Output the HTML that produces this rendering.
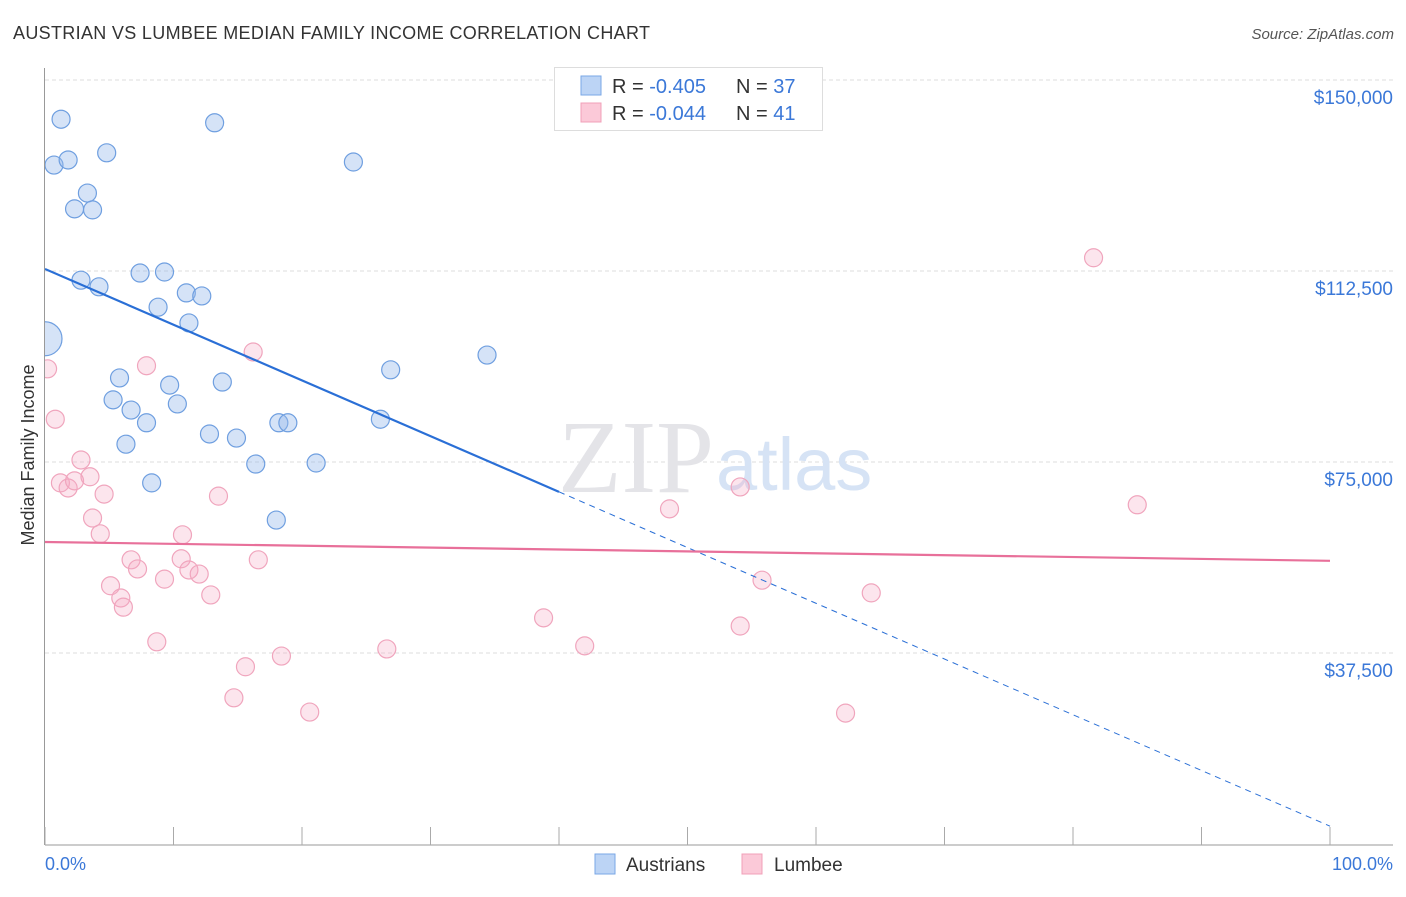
<!DOCTYPE html>
<html><head><meta charset="utf-8"><style>
body{margin:0;background:#fff;font-family:"Liberation Sans",sans-serif;}
</style></head><body>
<svg width="1406" height="892" xmlns="http://www.w3.org/2000/svg">
<defs><clipPath id="plotclip"><rect x="45" y="60" width="1360" height="786"/></clipPath></defs>
<text x="13" y="39" font-size="18" fill="#333" textLength="637">AUSTRIAN VS LUMBEE MEDIAN FAMILY INCOME CORRELATION CHART</text>
<text x="1394" y="39" font-size="15" fill="#555" font-style="italic" text-anchor="end">Source: ZipAtlas.com</text>
<g id="grid"></g>
<text x="714" y="492" font-size="104" fill="#e4e4e8" text-anchor="end" font-family="Liberation Serif">ZIP</text>
<text x="716" y="490" font-size="74" fill="#d6e3f5">atlas</text>
<g id="marks" clip-path="url(#plotclip)"></g>
<text x="34" y="455" font-size="18" fill="#333" text-anchor="middle" transform="rotate(-90 34 455)">Median Family Income</text>
<text x="45" y="870" font-size="18" fill="#3b78d8">0.0%</text>
<text x="1393" y="870" font-size="18" fill="#3b78d8" text-anchor="end">100.0%</text>
<g>
<rect x="554.5" y="67.5" width="268" height="63" fill="#fff" stroke="#ddd"/>
<rect x="581" y="76" width="20" height="19" fill="#bcd4f5" stroke="#7aa7e6"/>
<rect x="581" y="103" width="20" height="19" fill="#fbc9d8" stroke="#f0a0b8"/>
<text x="612" y="93" font-size="20" fill="#333">R = <tspan fill="#3b78d8">-0.405</tspan></text>
<text x="736" y="93" font-size="20" fill="#333">N = <tspan fill="#3b78d8">37</tspan></text>
<text x="612" y="120" font-size="20" fill="#333">R = <tspan fill="#3b78d8">-0.044</tspan></text>
<text x="736" y="120" font-size="20" fill="#333">N = <tspan fill="#3b78d8"> 41</tspan></text>
</g>
<g>
<rect x="595" y="854" width="20" height="20" fill="#bcd4f5" stroke="#7aa7e6"/>
<text x="626" y="871" font-size="19" fill="#333">Austrians</text>
<rect x="742" y="854" width="20" height="20" fill="#fbc9d8" stroke="#f0a0b8"/>
<text x="774" y="871" font-size="19" fill="#333">Lumbee</text>
</g>
</svg>
<script>
const yTicks=[37500,75000,112500,150000];
const yTickLabels=["$37,500","$75,000","$112,500","$150,000"];
const xTicks=[0,10,20,30,40,50,60,70,80,90,100];
const blueX=[1.25,13.2,0.7,1.8,4.8,24.0,3.3,2.3,3.7,2.8,7.4,9.3,4.2,8.8,11.0,12.2,11.2,0,34.4,26.9,5.8,9.7,13.8,5.3,6.7,10.3,7.9,6.3,12.8,14.9,18.2,18.9,26.1,16.4,21.1,8.3,18.0];
const blueY=[142.3,141.6,133.3,134.3,135.7,133.9,127.8,124.7,124.5,110.7,112.1,112.3,109.4,105.4,108.2,107.6,102.3,99.2,96.0,93.1,91.5,90.1,90.7,87.2,85.2,86.4,82.7,78.5,80.5,79.7,82.7,82.7,83.4,74.6,74.8,70.9,63.6];
const blueBig=[0,0,0,0,0,0,0,0,0,0,0,0,0,0,0,0,0,1,0,0,0,0,0,0,0,0,0,0,0,0,0,0,0,0,0,0,0];
const pinkX=[0.2,0.8,7.9,16.2,81.6,2.8,1.2,1.8,2.3,3.5,4.6,3.7,4.3,13.5,54.1,48.6,85.0,10.7,6.7,10.6,7.2,11.2,12.0,9.3,16.6,5.1,5.9,6.1,12.9,55.8,64.3,38.8,54.1,8.7,42.0,26.6,18.4,15.6,14.7,20.6,62.3];
const pinkY=[93.3,83.4,93.9,96.6,115.1,75.4,70.9,69.9,71.3,72.1,68.7,64.0,60.9,68.3,70.1,65.8,66.6,60.7,55.8,56.0,54.0,53.8,53.0,52.0,55.8,50.7,48.3,46.5,48.9,51.8,49.3,44.4,42.8,39.7,38.9,38.3,36.9,34.8,28.7,25.9,25.7];
const blueTrend=[112.9,3.5];
const blueSolidEnd=40;
const pinkTrend=[59.3,55.6];
const NS="http://www.w3.org/2000/svg";
const X=p=>45+p*12.85;
const Y=v=>844-v*1000*191/37500;
const grid=document.getElementById('grid'),marks=document.getElementById('marks');
function mk(tag,attrs,parent){const e=document.createElementNS(NS,tag);for(const k in attrs)e.setAttribute(k,attrs[k]);parent.appendChild(e);return e;}
yTicks.forEach((t,i)=>{const y=Y(t/1000);
const l=mk('line',{x1:45,x2:1393,y1:y,y2:y,stroke:'#ddd','stroke-dasharray':'4,3'},grid);


const tx=mk('text',{x:1393,y:y+24,'font-size':19,fill:'#3b78d8','text-anchor':'end'},grid);tx.textContent=yTickLabels[i];

});
const ax=mk('line',{x1:44.5,x2:44.5,y1:68,y2:845,stroke:'#999'},grid);


const bx=mk('line',{x1:45,x2:1393,y1:845,y2:845,stroke:'#999'},grid);


xTicks.forEach(t=>{const x=X(t);const l=mk('line',{x1:x,x2:x,y1:827,y2:845,stroke:'#aaa'},grid);

});
blueX.forEach((p,i)=>{const c=mk('circle',{cx:X(p),cy:Y(blueY[i]),r:blueBig[i]?17:9,fill:'rgba(150,185,235,0.4)',stroke:'#6f9fe0','stroke-width':1.2},marks);

});
pinkX.forEach((p,i)=>{const c=mk('circle',{cx:X(p),cy:Y(pinkY[i]),r:9,fill:'rgba(245,170,195,0.3)',stroke:'#f0a5bd','stroke-width':1.2},marks);

});
const bv=p=>blueTrend[0]+(blueTrend[1]-blueTrend[0])*p/100;
const t1=mk('line',{x1:X(0),y1:Y(bv(0)),x2:X(blueSolidEnd),y2:Y(bv(blueSolidEnd)),stroke:'#2a6fd6','stroke-width':2.2},marks);


const t2=mk('line',{x1:X(blueSolidEnd),y1:Y(bv(blueSolidEnd)),x2:X(100),y2:Y(bv(100)),stroke:'#2a6fd6','stroke-width':1,'stroke-dasharray':'6,5'},marks);


const t3=mk('line',{x1:X(0),y1:Y(pinkTrend[0]),x2:X(100),y2:Y(pinkTrend[1]),stroke:'#e8709a','stroke-width':2.2},marks);


</script>
</body></html>
